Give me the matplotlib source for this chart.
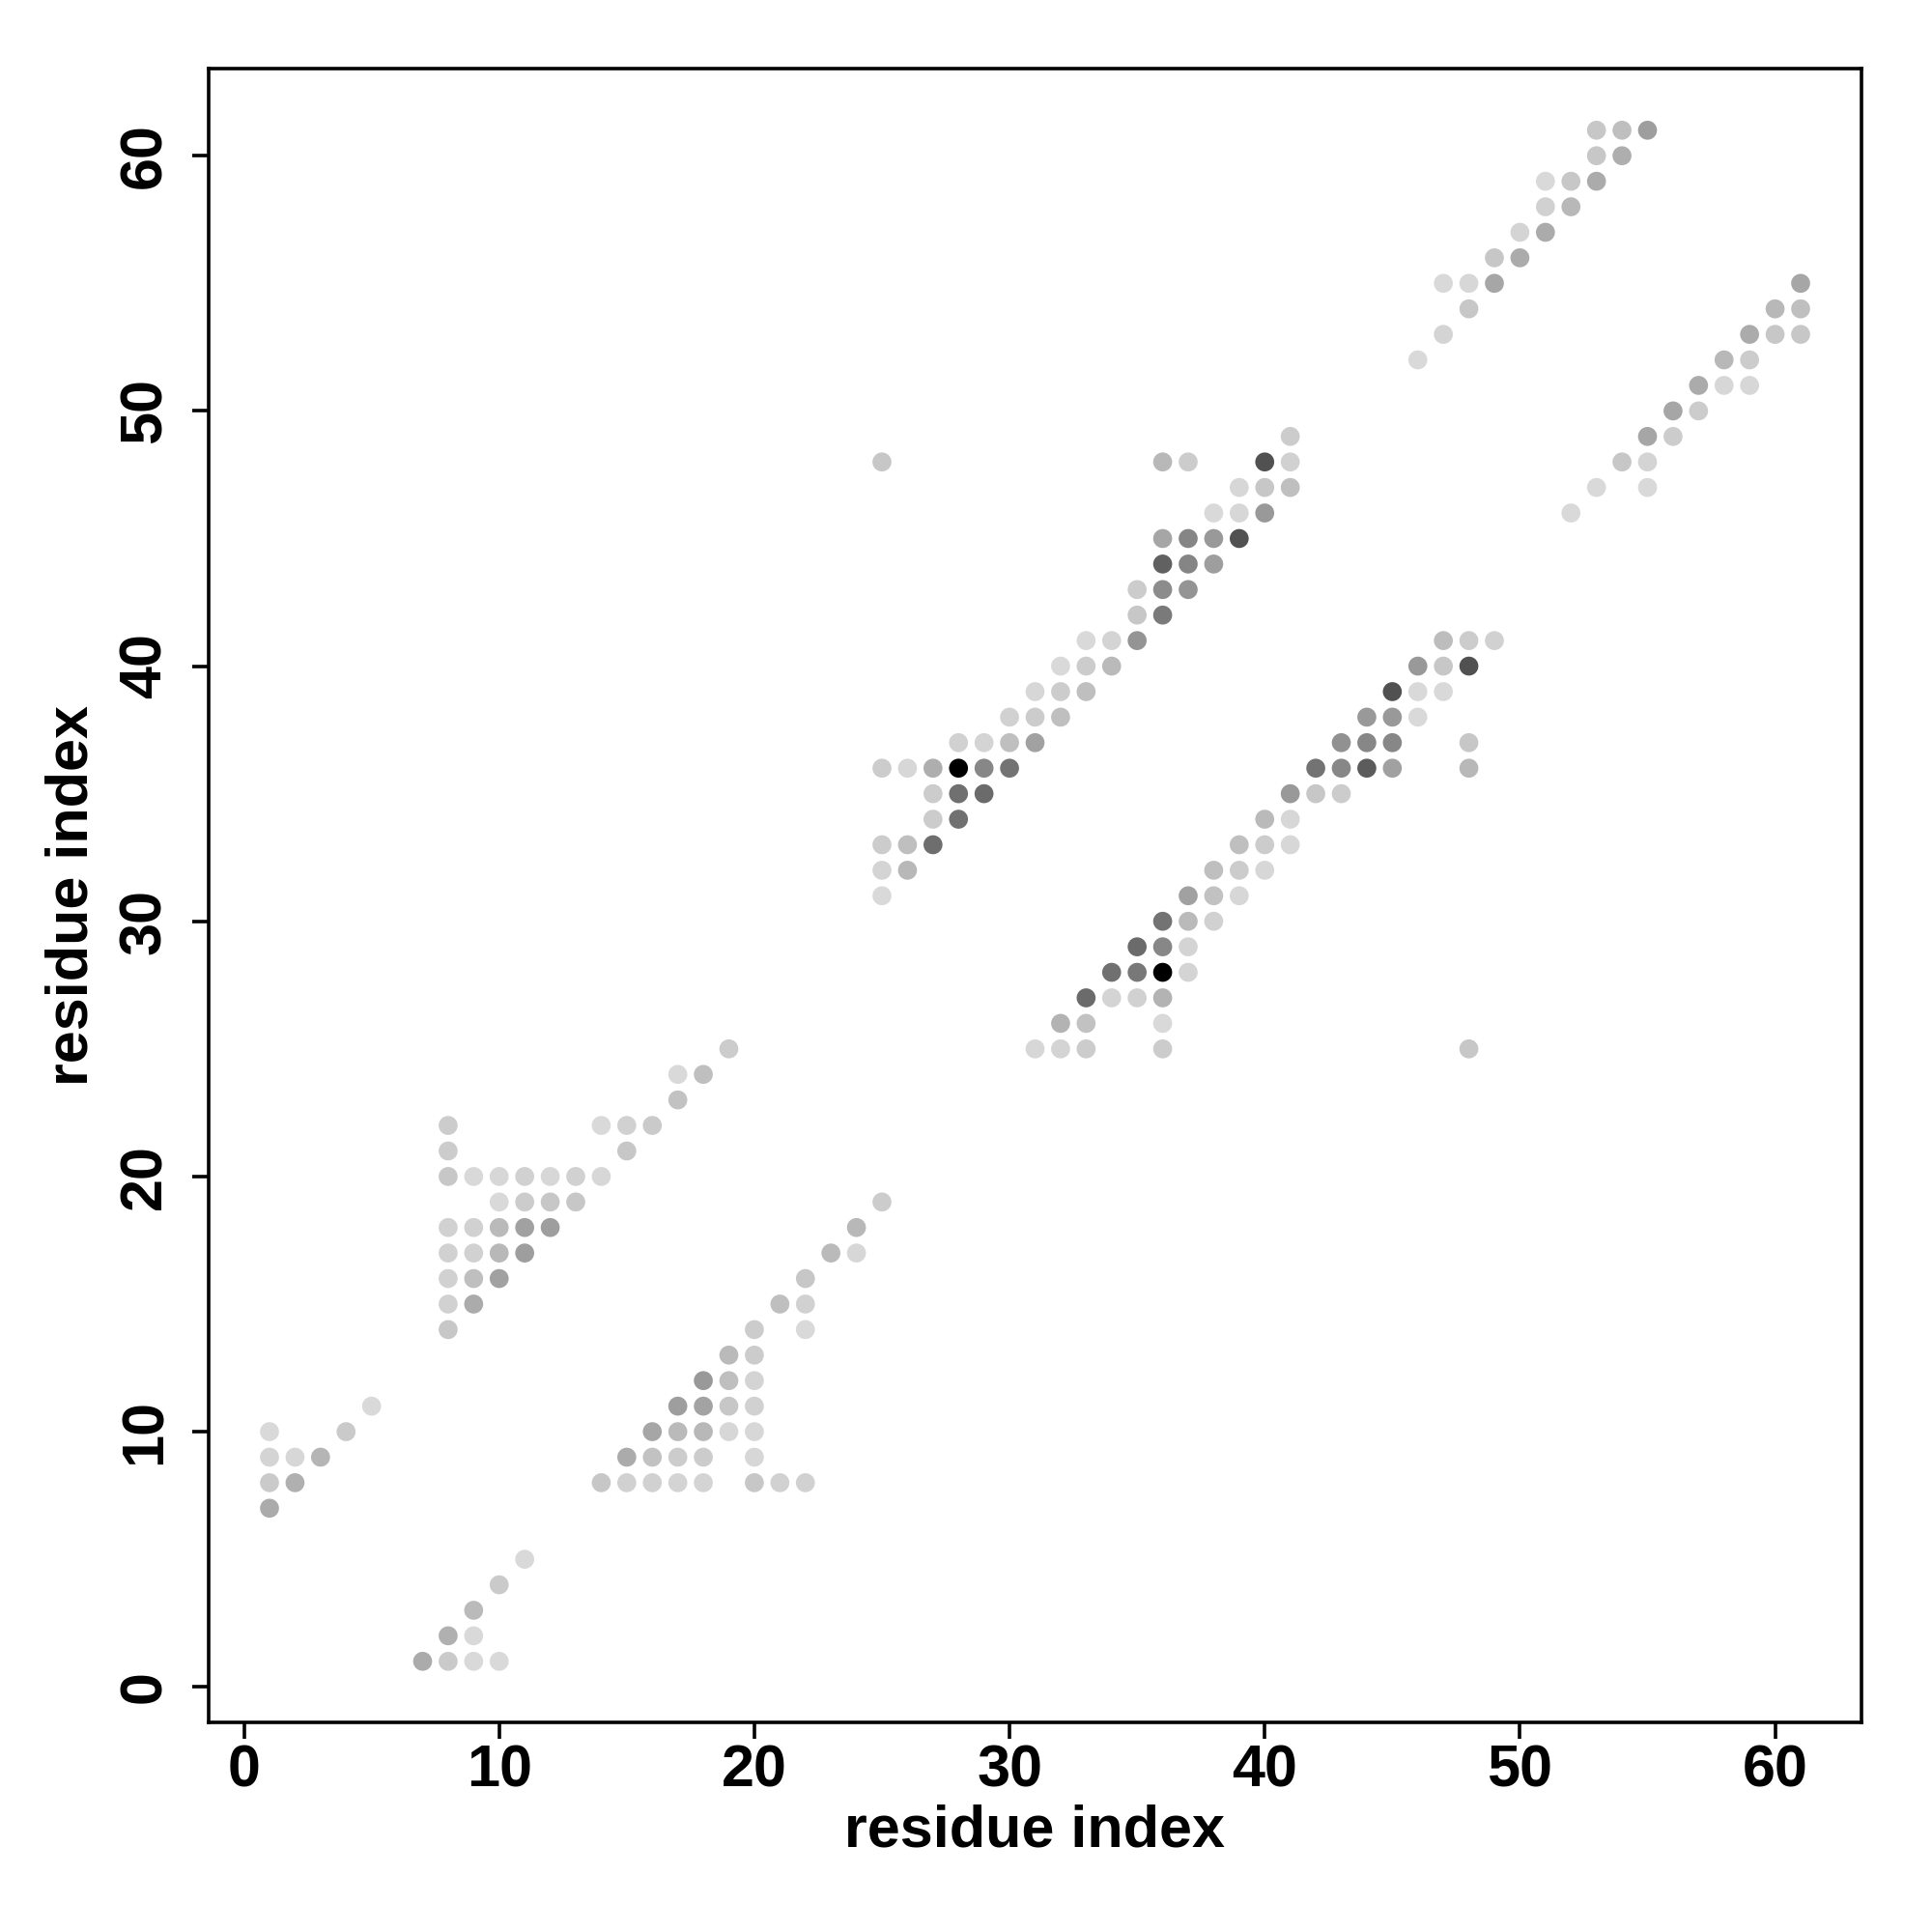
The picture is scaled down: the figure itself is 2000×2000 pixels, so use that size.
import numpy as np
import matplotlib.pyplot as plt

plt.rcParams['font.family'] = ['Liberation Sans', 'DejaVu Sans']

# contact map: residue i, residue j, contact frequency (darker = more frequent)
# bottom left blocks
x_a = [1, 1, 2, 3, 4, 5, 1, 2, 1,
       11, 10, 9, 8, 9, 7, 8, 9, 10]
y_a = [10, 9, 9, 9, 10, 11, 8, 8, 7,
       5, 4, 3, 2, 2, 1, 1, 1, 1]
f_a = [0.15, 0.17, 0.16, 0.29, 0.21, 0.15, 0.21, 0.31, 0.33,
       0.15, 0.21, 0.27, 0.31, 0.15, 0.33, 0.21, 0.15, 0.15]

# block around residues 8-25 (upper arm)
x_b = [8, 14, 15, 16,
       8, 15,
       8, 9, 10, 11, 12, 13, 14,
       10, 11, 12, 13,
       8, 9, 10, 11, 12,
       8, 9, 10, 11,
       8, 9, 10,
       8, 9,
       8,
       17, 18, 17, 19]
y_b = [22, 22, 22, 22,
       21, 21,
       20, 20, 20, 20, 20, 20, 20,
       19, 19, 19, 19,
       18, 18, 18, 18, 18,
       17, 17, 17, 17,
       16, 16, 16,
       15, 15,
       14,
       24, 24, 23, 25]
f_b = [0.2, 0.15, 0.18, 0.21,
       0.2, 0.22,
       0.22, 0.15, 0.16, 0.18, 0.16, 0.18, 0.16,
       0.15, 0.2, 0.22, 0.22,
       0.18, 0.18, 0.27, 0.37, 0.38,
       0.18, 0.18, 0.28, 0.38,
       0.18, 0.25, 0.37,
       0.18, 0.33,
       0.22,
       0.15, 0.25, 0.24, 0.2]

# block around residues 14-25 (lower arm)
x_c = [25, 24, 23, 24, 22, 21, 22, 20, 22, 19, 20,
       18, 19, 20,
       17, 18, 19, 20,
       16, 17, 18, 19, 20,
       15, 16, 17, 18, 20,
       14, 15, 16, 17, 18, 20, 21, 22]
y_c = [19, 18, 17, 17, 16, 15, 15, 14, 14, 13, 13,
       12, 12, 12,
       11, 11, 11, 11,
       10, 10, 10, 10, 10,
       9, 9, 9, 9, 9,
       8, 8, 8, 8, 8, 8, 8, 8]
f_c = [0.2, 0.28, 0.27, 0.16, 0.22, 0.25, 0.18, 0.2, 0.15, 0.27, 0.2,
       0.4, 0.25, 0.17,
       0.38, 0.36, 0.22, 0.18,
       0.35, 0.27, 0.28, 0.16, 0.16,
       0.33, 0.24, 0.2, 0.2, 0.16,
       0.22, 0.18, 0.18, 0.17, 0.17, 0.22, 0.18, 0.18]

# middle band, above diagonal
x_d = [41,
       25, 36, 37, 40, 41,
       39, 40, 41,
       38, 39, 40,
       36, 37, 38, 39,
       36, 37, 38,
       35, 36, 37,
       35, 36,
       33, 34, 35,
       32, 33, 34,
       31, 32, 33,
       30, 31, 32,
       28, 29, 30, 31,
       25, 26, 27, 28, 29, 30,
       27, 28, 29,
       27, 28,
       25, 26, 27,
       25, 26,
       25]
y_d = [49,
       48, 48, 48, 48, 48,
       47, 47, 47,
       46, 46, 46,
       45, 45, 45, 45,
       44, 44, 44,
       43, 43, 43,
       42, 42,
       41, 41, 41,
       40, 40, 40,
       39, 39, 39,
       38, 38, 38,
       37, 37, 37, 37,
       36, 36, 36, 36, 36, 36,
       35, 35, 35,
       34, 34,
       33, 33, 33,
       32, 32,
       31]
f_d = [0.2,
       0.22, 0.28, 0.2, 0.68, 0.18,
       0.16, 0.22, 0.25,
       0.15, 0.16, 0.4,
       0.35, 0.48, 0.4, 0.68,
       0.62, 0.48, 0.38,
       0.2, 0.45, 0.42,
       0.22, 0.52,
       0.15, 0.17, 0.42,
       0.15, 0.2, 0.27,
       0.16, 0.2, 0.25,
       0.18, 0.2, 0.25,
       0.18, 0.17, 0.25, 0.37,
       0.2, 0.16, 0.32, 1.0, 0.47, 0.55,
       0.2, 0.56, 0.58,
       0.2, 0.56,
       0.2, 0.25, 0.57,
       0.17, 0.28,
       0.15]

# middle band, below diagonal
x_e = [47, 48, 49,
       46, 47, 48,
       45, 46, 47,
       44, 45, 46,
       43, 44, 45, 48,
       42, 43, 44, 45, 48,
       41, 42, 43,
       40, 41,
       39, 40, 41,
       38, 39, 40,
       37, 38, 39,
       36, 37, 38,
       35, 36, 37,
       34, 35, 36, 37,
       33, 34, 35, 36,
       32, 33, 36,
       31, 32, 33, 36, 48]
y_e = [41, 41, 41,
       40, 40, 40,
       39, 39, 39,
       38, 38, 38,
       37, 37, 37, 37,
       36, 36, 36, 36, 36,
       35, 35, 35,
       34, 34,
       33, 33, 33,
       32, 32, 32,
       31, 31, 31,
       30, 30, 30,
       29, 29, 29,
       28, 28, 28, 28,
       27, 27, 27, 27,
       26, 26, 26,
       25, 25, 25, 25, 25]
f_e = [0.26, 0.2, 0.18,
       0.4, 0.22, 0.68,
       0.68, 0.15, 0.15,
       0.4, 0.4, 0.15,
       0.43, 0.47, 0.47, 0.22,
       0.55, 0.47, 0.64, 0.37, 0.28,
       0.4, 0.22, 0.2,
       0.27, 0.16,
       0.25, 0.2, 0.16,
       0.25, 0.2, 0.16,
       0.37, 0.24, 0.16,
       0.55, 0.27, 0.18,
       0.58, 0.47, 0.17,
       0.56, 0.53, 1.0, 0.17,
       0.58, 0.17, 0.18, 0.3,
       0.3, 0.24, 0.15,
       0.16, 0.17, 0.2, 0.2, 0.22]

# top right band, above diagonal
x_f = [53, 54, 55, 53, 54, 51, 52, 53, 51, 52, 50, 51, 49, 50, 47, 48, 49, 48, 47, 46]
y_f = [61, 61, 61, 60, 60, 59, 59, 59, 58, 58, 57, 57, 56, 56, 55, 55, 55, 54, 53, 52]
f_f = [0.22, 0.25, 0.38, 0.22, 0.32, 0.15, 0.22, 0.33, 0.18, 0.28, 0.17, 0.33,
       0.22, 0.33, 0.15, 0.16, 0.35, 0.22, 0.17, 0.15]

# top right band, below diagonal
x_g = [61, 60, 61, 59, 60, 61, 58, 59, 57, 58, 59, 56, 57, 55, 56, 54, 55, 53, 55, 52]
y_g = [55, 54, 54, 53, 53, 53, 52, 52, 51, 51, 51, 50, 50, 49, 49, 48, 48, 47, 47, 46]
f_g = [0.35, 0.28, 0.25, 0.33, 0.22, 0.22, 0.28, 0.2, 0.33, 0.16, 0.16, 0.35,
       0.2, 0.35, 0.2, 0.22, 0.17, 0.15, 0.15, 0.15]

xs = np.array(x_a + x_b + x_c + x_d + x_e + x_f + x_g)
ys = np.array(y_a + y_b + y_c + y_d + y_e + y_f + y_g)
fs = np.array(f_a + f_b + f_c + f_d + f_e + f_f + f_g)

fig = plt.figure(figsize=(10, 10), dpi=200)
ax = fig.add_axes([0.1078, 0.1084, 0.8559, 0.8559])
ax.scatter(xs, ys, c=fs, cmap='gray_r', vmin=0, vmax=1, s=50, linewidths=0)

ax.set_xlim(-1.4, 63.4)
ax.set_ylim(-1.4, 63.4)
ax.set_xticks(range(0, 61, 10))
ax.set_yticks(range(0, 61, 10))
for sp in ax.spines.values():
    sp.set_linewidth(1.3)
ax.tick_params(direction='out', length=6, width=1.3, labelsize=22)
ax.tick_params(axis='x', pad=2)
ax.tick_params(axis='y', pad=7)
for lab in ax.get_xticklabels() + ax.get_yticklabels():
    lab.set_fontweight('bold')
for lab in ax.get_yticklabels():
    lab.set_rotation(90)
    lab.set_va('center')
ax.set_xlabel("residue index", fontsize=22, fontweight='bold', labelpad=2)
ax.set_ylabel("residue index", fontsize=22, fontweight='bold', labelpad=7)

fig.savefig("out.png", dpi=200, facecolor='white')
